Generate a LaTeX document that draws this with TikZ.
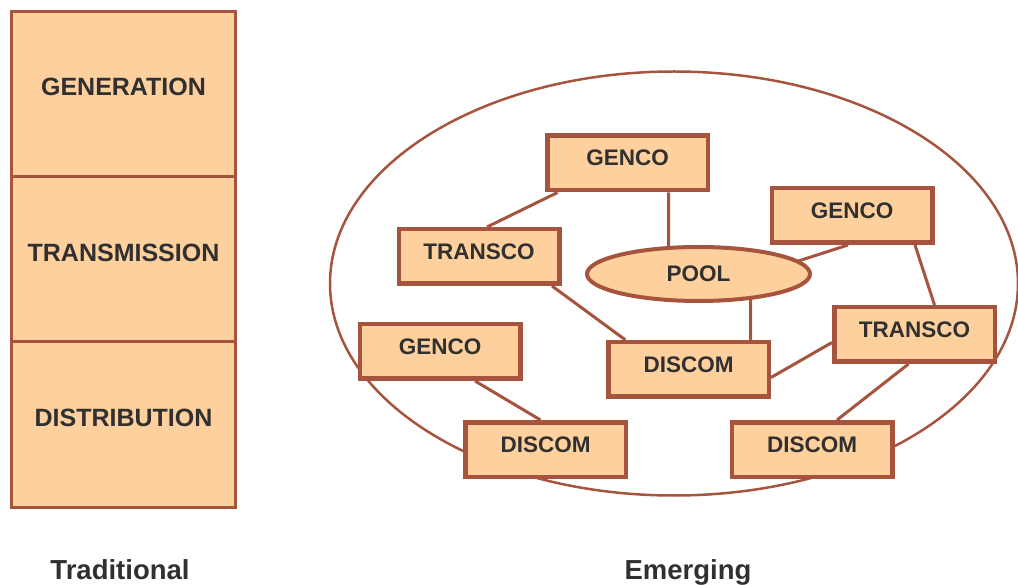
\documentclass[tikz,border=0pt]{standalone}
\usepackage{fontspec}
\setmainfont{Liberation Sans}
\usetikzlibrary{shapes}
\pgfdeclarelayer{bg}
\pgfsetlayers{bg,main}
\definecolor{peach}{RGB}{253,208,158}
\definecolor{rust}{RGB}{166,84,62}
\definecolor{ink}{RGB}{48,48,48}

\begin{document}
\begin{tikzpicture}[x=1pt, y=-1pt,
    stack/.style={draw=rust, line width=3pt, fill=peach, minimum width=224pt, minimum height=165pt,
                  inner sep=0pt, text=ink, font=\fontsize{25}{30}\selectfont\bfseries, text depth=14pt},
    unit/.style={draw=rust, line width=4.5pt, fill=peach, minimum width=160.5pt, minimum height=54.5pt,
                 inner sep=0pt, text=ink, font=\fontsize{22.5}{27}\selectfont\bfseries, text depth=10pt},
    link/.style={draw=rust, line width=3pt},
    caption/.style={anchor=base, text=ink, font=\fontsize{27.5}{33}\selectfont\bfseries}]
      \useasboundingbox (0, 0) rectangle (1018, 585);
      % traditional: one utility does it all
      \node (gen)  [stack] at (123.5, 94)    {GENERATION};
      \node (tran) [stack] at (123.5, 259.5) {TRANSMISSION};
      \node (dist) [stack] at (123.5, 424.5) {DISTRIBUTION};
      \node (trad) [caption] at (120, 579) {Traditional};
      % emerging: separate companies round a pool
      \node (market) [draw=rust, line width=2.5pt, ellipse, minimum width=688pt, minimum height=424pt]
            at (674, 283.5) {};
      \node (gencoa)   [unit] at (627.5, 163)   {GENCO};
      \node (gencob)   [unit] at (852, 215.5)   {GENCO};
      \node (gencoc)   [unit] at (440, 351.5)   {GENCO};
      \node (transcoa) [unit] at (479, 256.5)   {TRANSCO};
      \node (transcob) [unit] at (914.5, 334.5) {TRANSCO};
      \node (discoma)  [unit] at (688.5, 369.5) {DISCOM};
      \node (discomb)  [unit] at (545.5, 449.5) {DISCOM};
      \node (discomc)  [unit] at (812, 449.5)   {DISCOM};
      \node (pool) [unit, ellipse, line width=4pt, minimum width=223pt, minimum height=54pt, text depth=0pt]
            at (698.5, 274) {POOL};
      \node (emer) [caption] at (688, 579) {Emerging};
      \begin{pgfonlayer}{bg}
      \draw[link] ([xshift=-70]gencoa.south) -- ([xshift=8]transcoa.north)
                  ([xshift=41]gencoa.south) -- ([xshift=41]gencoa.south |- pool.center)
                  ([xshift=73]transcoa.south) -- ([xshift=-63]discoma.north)
                  ([xshift=52]pool.center) -- ([xshift=52]pool.center |- discoma.center)
                  ([xshift=-4]gencob.south) -- ([shift={(72,-4)}]pool.center)
                  ([xshift=63]gencob.south) -- ([xshift=20]transcob.north)
                  ([yshift=-8]transcob.west) -- ([yshift=-8]discoma.east)
                  ([xshift=-6]transcob.south) -- ([xshift=25]discomc.north)
                  ([xshift=35]gencoc.south) -- ([xshift=-5]discomb.north);
      \end{pgfonlayer}
\end{tikzpicture}
\end{document}
